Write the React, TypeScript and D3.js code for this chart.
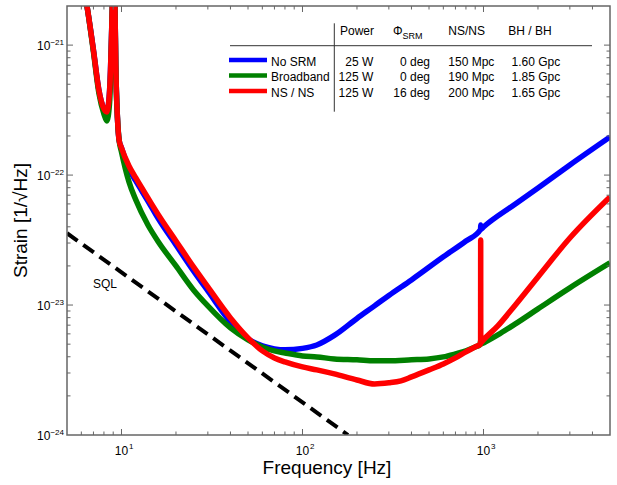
import React from "react";
import * as d3 from "d3";

// ---------- data ----------
const NOSRM_FREQ = [6.3, 6.5, 7, 7.5, 8, 8.3, 8.6, 8.9, 9.0, 9.2, 9.3, 9.5, 9.7, 10, 11, 12, 14, 16, 20, 25, 30, 40, 50, 60, 70, 80, 100, 120, 150, 200, 250, 300, 400, 600, 800, 964, 965, 966, 1000, 1500, 2000, 3000, 5000];
const NOSRM_STRAIN = [2.43e-21, 1.86e-21, 9.17e-22, 4.52e-22, 3.23e-22, 3.06e-22, 4.52e-22, 2.0e-21, 3.78e-21, 2.0e-21, 7.03e-22, 2.75e-22, 1.86e-22, 1.62e-22, 1.114e-22, 9.01e-23, 6.32e-23, 4.6e-23, 2.9e-23, 1.83e-23, 1.284e-23, 7.42e-24, 5.49e-24, 4.85e-24, 4.6e-24, 4.52e-24, 4.64e-24, 4.93e-24, 5.84e-24, 7.89e-24, 9.85e-24, 1.186e-23, 1.561e-23, 2.35e-23, 3.11e-23, 3.82e-23, 4.13e-23, 3.82e-23, 3.99e-23, 6.0e-23, 7.96e-23, 1.197e-22, 1.965e-22];

const BROADBAND_FREQ = [6.3, 6.5, 7, 7.5, 8, 8.3, 8.6, 8.9, 9.0, 9.2, 9.3, 9.5, 9.7, 10, 11, 12, 14, 16, 20, 25, 30, 40, 50, 60, 70, 80, 100, 120, 150, 200, 250, 300, 400, 500, 600, 700, 800, 900, 955, 965, 975, 1000, 1200, 1500, 2000, 3000, 5000];
const BROADBAND_STRAIN = [2.43e-21, 1.86e-21, 8.86e-22, 4.28e-22, 2.95e-22, 2.61e-22, 3.65e-22, 2.0e-21, 3.78e-21, 2.0e-21, 7.03e-22, 2.75e-22, 1.86e-22, 1.51e-22, 8.86e-23, 6.44e-23, 4.13e-23, 3.06e-23, 2.0e-23, 1.307e-23, 9.85e-24, 6.67e-24, 5.4e-24, 4.76e-24, 4.44e-24, 4.28e-24, 4.06e-24, 3.99e-24, 3.85e-24, 3.79e-24, 3.72e-24, 3.72e-24, 3.79e-24, 3.85e-24, 3.99e-24, 4.21e-24, 4.44e-24, 4.76e-24, 4.93e-24, 5.3e-24, 5.02e-24, 5.11e-24, 5.89e-24, 7.16e-24, 9.34e-24, 1.355e-23, 2.11e-23];

const NSNS_FREQ = [6.3, 6.5, 7, 7.5, 8, 8.3, 8.6, 8.9, 9.0, 9.2, 9.3, 9.5, 9.7, 10, 11, 12, 14, 16, 20, 25, 30, 40, 50, 60, 70, 80, 100, 120, 150, 200, 250, 300, 350, 400, 500, 600, 700, 800, 900, 964, 965, 966, 1000, 1200, 1500, 2000, 3000, 5000];
const NSNS_STRAIN = [2.43e-21, 1.86e-21, 9.17e-22, 4.52e-22, 3.23e-22, 3.06e-22, 4.52e-22, 2.0e-21, 3.78e-21, 2.0e-21, 7.03e-22, 2.75e-22, 1.86e-22, 1.62e-22, 1.175e-22, 9.5e-23, 6.67e-23, 4.94e-23, 3.11e-23, 1.965e-23, 1.378e-23, 7.96e-24, 5.59e-24, 4.44e-24, 3.92e-24, 3.65e-24, 3.34e-24, 3.17e-24, 2.95e-24, 2.65e-24, 2.47e-24, 2.52e-24, 2.61e-24, 2.8e-24, 3.17e-24, 3.52e-24, 3.92e-24, 4.36e-24, 4.76e-24, 5.02e-24, 3.17e-23, 5.11e-24, 5.4e-24, 6.91e-24, 1.002e-23, 1.646e-23, 3.28e-23, 6.79e-23];

const SQL_FREQ = [5, 178.4];
const SQL_STRAIN = [3.57e-23, 1.0e-24];

const X_MAJOR = [10, 100, 1000];
const X_EXP = ["1", "2", "3"];
const Y_MAJOR = [1e-24, 1e-23, 1e-22, 1e-21];
const Y_EXP = ["\u221224", "\u221223", "\u221222", "\u221221"];

const LEG_NAMES = ["No SRM", "Broadband", "NS / NS"];
const LEG_COLORS = ["#0000ff", "#008000", "#ff0000"];
const LEG_POWER = ["25 W", "125 W", "125 W"];
const LEG_PHI = ["0 deg", "0 deg", "16 deg"];
const LEG_NSNS = ["150 Mpc", "190 Mpc", "200 Mpc"];
const LEG_BHBH = ["1.60 Gpc", "1.85 Gpc", "1.65 Gpc"];

const W = 617;
const H = 485;
const L = 67, R = 610, T = 6, B = 435;
const FONT = "'Liberation Sans', Arial, Helvetica, sans-serif";

export default function App() {
  const x = d3.scaleLog().domain([5, 5000]).range([L, R]);
  const y = d3.scaleLog().domain([1e-24, 2e-21]).range([B, T]);

  const line = d3
    .line<[number, number]>()
    .x((d) => x(d[0]))
    .y((d) => y(d[1]))
    .curve(d3.curveMonotoneX);
  const straight = d3
    .line<[number, number]>()
    .x((d) => x(d[0]))
    .y((d) => y(d[1]));

  const zip = (f: number[], s: number[]) => f.map((v, i) => [v, s[i]] as [number, number]);

  const series = [
    { f: NOSRM_FREQ, s: NOSRM_STRAIN, c: LEG_COLORS[0] },
    { f: BROADBAND_FREQ, s: BROADBAND_STRAIN, c: LEG_COLORS[1] },
    { f: NSNS_FREQ, s: NSNS_STRAIN, c: LEG_COLORS[2] },
  ];

  const xTicks = x.ticks().filter((t) => t > 5 && t < 5000);
  const yTicks = y.ticks().filter((t) => t > 1e-24 * 1.001 && t < 2e-21 * 0.999);
  const isMajor = (t: number) => Math.abs(Math.log10(t) - Math.round(Math.log10(t))) < 1e-6;

  const axisColor = "#666";
  const MAJ = 6;
  const MIN = 3.5;

  const rowY = [65.5, 81, 96.5];

  return (
    <svg
      width={W}
      height={H}
      style={{ position: "absolute", left: 0, top: 0, background: "#fff" }}
      fontFamily={FONT}
    >
      <defs>
        <clipPath id="plotclip">
          <rect x={L} y={T} width={R - L} height={B - T} />
        </clipPath>
      </defs>
      <rect x={0} y={0} width={W} height={H} fill="#fff" />

      <g clipPath="url(#plotclip)">
        <path
          d={straight(zip(SQL_FREQ, SQL_STRAIN)) || ""}
          fill="none"
          stroke="#000"
          strokeWidth={4}
          strokeDasharray="13,7"
        />
        {series.map((sr, i) => (
          <path
            key={i}
            d={line(zip(sr.f, sr.s)) || ""}
            fill="none"
            stroke={sr.c}
            strokeWidth={5.5}
            strokeLinejoin="round"
          />
        ))}
      </g>

      <text x={93} y={288} fontSize={12} fill="#000">SQL</text>

      {/* axes box */}
      <rect x={L} y={T} width={R - L} height={B - T} fill="none" stroke={axisColor} strokeWidth={1.5} />

      {xTicks.map((t, i) => {
        const len = isMajor(t) ? MAJ : MIN;
        const xx = x(t);
        return (
          <g key={"xt" + i} stroke={axisColor} strokeWidth={1}>
            <line x1={xx} x2={xx} y1={B} y2={B - len} />
            <line x1={xx} x2={xx} y1={T} y2={T + len} />
          </g>
        );
      })}
      {yTicks.map((t, i) => {
        const len = isMajor(t) ? MAJ : MIN;
        const yy = y(t);
        return (
          <g key={"yt" + i} stroke={axisColor} strokeWidth={1}>
            <line x1={L} x2={L + len} y1={yy} y2={yy} />
            <line x1={R} x2={R - len} y1={yy} y2={yy} />
          </g>
        );
      })}
      {Y_MAJOR.map((t, i) => (
        <text key={"yl" + i} x={64} y={y(t) + 5} fontSize={12} textAnchor="end" fill="#000">
          10
          <tspan fontSize={8} dy={-5}>{Y_EXP[i]}</tspan>
        </text>
      ))}
      {X_MAJOR.map((t, i) => (
        <g key={"xl" + i}>
          <text x={x(t)} y={455} fontSize={12} textAnchor="middle" fill="#000">10</text>
          <text x={x(t) + 7.5} y={449} fontSize={8} fill="#000">{X_EXP[i]}</text>
        </g>
      ))}

      <text x={327} y={474} fontSize={19} textAnchor="middle" fill="#000">
        Frequency [Hz]
      </text>
      <text
        transform={`translate(27,${(T + B) / 2}) rotate(-90)`}
        fontSize={19}
        textAnchor="middle"
        fill="#000"
      >
        Strain [1/√Hz]
      </text>

      {/* legend table */}
      <line x1={334.3} x2={334.3} y1={23.3} y2={111.7} stroke="#333" strokeWidth={1} />
      <line x1={230} x2={592} y1={45.7} y2={45.7} stroke="#333" strokeWidth={1} />
      <g fontSize={12} fill="#000">
        <text x={340} y={35}>Power</text>
        <text x={393} y={35}>
          Φ<tspan fontSize={9} dy={4}>SRM</tspan>
        </text>
        <text x={448.3} y={35}>NS/NS</text>
        <text x={508.3} y={35}>BH / BH</text>
        {LEG_NAMES.map((n, i) => (
          <g key={"lg" + i}>
            <line x1={229} x2={267} y1={rowY[i] - 5.5} y2={rowY[i] - 5.5} stroke={LEG_COLORS[i]} strokeWidth={4.5} />
            <text x={271} y={rowY[i]}>{n}</text>
            <text x={373.3} y={rowY[i]} textAnchor="end">{LEG_POWER[i]}</text>
            <text x={430} y={rowY[i]} textAnchor="end">{LEG_PHI[i]}</text>
            <text x={448.3} y={rowY[i]}>{LEG_NSNS[i]}</text>
            <text x={511.5} y={rowY[i]}>{LEG_BHBH[i]}</text>
          </g>
        ))}
      </g>
    </svg>
  );
}
